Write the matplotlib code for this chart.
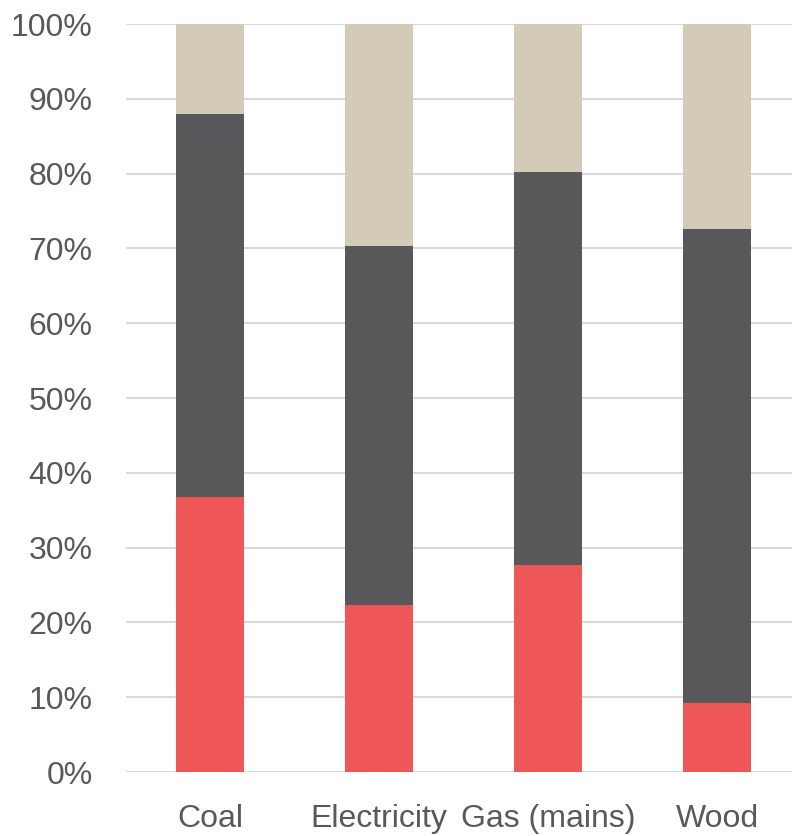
import matplotlib.pyplot as plt
import numpy as np

categories = ["Coal", "Electricity", "Gas (mains)", "Wood"]
red_vals = [36.8, 22.3, 27.7, 9.2]
dark_vals = [51.2, 48.0, 52.5, 63.4]
beige_vals = [12.0, 29.7, 19.8, 27.4]

plt.rcParams['font.family'] = ['Liberation Sans', 'DejaVu Sans']

fig = plt.figure(figsize=(7.92, 8.36), dpi=100)
ax = fig.add_axes([126 / 792, 1 - 772 / 836, 1 - 126 / 792, (772 - 24) / 836])

x = np.arange(len(categories))
red = np.array(red_vals)
dark = np.array(dark_vals)
beige = np.array(beige_vals)
w = 0.4
ax.bar(x, red, w, color="#EF5657", zorder=3)
ax.bar(x, dark, w, bottom=red, color="#58585A", zorder=3)
ax.bar(x, beige, w, bottom=red + dark, color="#D3CBB7", zorder=3)

ax.set_ylim(0, 100)
ax.set_xlim(-84 / 169, (792 - 210) / 169)
ax.set_yticks(np.arange(0, 101, 10))
ax.set_yticklabels([f"{v}%" for v in range(0, 101, 10)])
ax.set_xticks(x)
ax.set_xticklabels(categories)
ax.grid(axis="y", color="#D9D9D9", linewidth=1.5, zorder=0)
for s in ax.spines.values():
    s.set_visible(False)
ax.tick_params(axis="both", length=0, labelsize=23, labelcolor="#595959")
ax.tick_params(axis="y", pad=24)
ax.tick_params(axis="x", pad=23)

fig.savefig("out.png", dpi=100)
